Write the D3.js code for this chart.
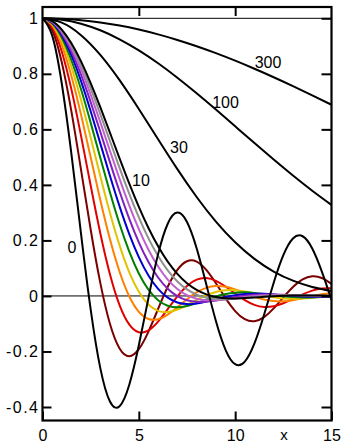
<!DOCTYPE html>
<html>
<head>
<meta charset="utf-8">
<script src="https://cdn.jsdelivr.net/npm/d3@7"></script>
<style>
  body { margin: 0; background: #fff; }
  svg { display: block; }
  text { font-family: "Liberation Sans", Arial, Helvetica, sans-serif; fill: #000; }
</style>
</head>
<body>
<svg id="chart" width="346" height="448"></svg>
<script>
// Sample positions along x
const xFine = [0, 0.5, 1, 1.5, 2, 2.5, 3, 3.5, 4, 4.5, 5, 5.5, 6, 6.5, 7, 7.5, 8, 8.5, 9, 9.5,
               10, 10.5, 11, 11.5, 12, 12.5, 13, 13.5, 14, 14.5, 15];
const xCoarse = [0, 1, 2, 3, 4, 5, 6, 7, 8, 9, 10, 11, 12, 13, 14, 15];

// Curve family, labelled 0 ... 10, 30, 100, 300
const curve0  = [1, 0.9385, 0.7652, 0.5118, 0.2239, -0.0484, -0.2601, -0.3801, -0.3971, -0.3205, -0.1776,
                 -0.0068, 0.1506, 0.2601, 0.3001, 0.2663, 0.1717, 0.0419, -0.0903, -0.1939, -0.2459,
                 -0.2366, -0.1712, -0.0677, 0.0477, 0.1469, 0.2069, 0.2150, 0.1711, 0.0875, -0.0142];
const curve1  = [1, 0.9589, 0.8415, 0.6650, 0.4546, 0.2394, 0.0470, -0.1002, -0.1892, -0.2172, -0.1918,
                 -0.1283, -0.0466, 0.0331, 0.0939, 0.1251, 0.1237, 0.0939, 0.0458, -0.0079, -0.0544,
                 -0.0838, -0.0909, -0.0761, -0.0447, -0.0053, 0.0323, 0.0595, 0.0708, 0.0645, 0.0434];
const curve2  = [1, 0.9692, 0.8801, 0.7439, 0.5767, 0.3977, 0.2261, 0.0785, -0.0330, -0.1027, -0.1310,
                 -0.1241, -0.0922, -0.0473, -0.0013, 0.0361, 0.0587, 0.0643, 0.0545, 0.0340, 0.0087,
                 -0.0150, -0.0321, -0.0397, -0.0372, -0.0265, -0.0108, 0.0056, 0.0191, 0.0267, 0.0273];
const curve3  = [1, 0.9752, 0.9035, 0.7923, 0.6531, 0.4994, 0.3457, 0.2048, 0.0871, -0.0010, -0.0571,
                 -0.0830, -0.0839, -0.0670, -0.0404, -0.0118, 0.0126, 0.0289, 0.0354, 0.0329, 0.0235,
                 0.0107, -0.0024, -0.0127, -0.0185, -0.0193, -0.0155, -0.0088, -0.0010, 0.0060, 0.0107];
const curve4  = [1, 0.9793, 0.9192, 0.8252, 0.7057, 0.5710, 0.4322, 0.2995, 0.1821, 0.0860, 0.0149,
                 -0.0310, -0.0540, -0.0582, -0.0492, -0.0327, -0.0141, 0.0025, 0.0143, 0.0202, 0.0204,
                 0.0161, 0.0092, 0.0017, -0.0047, -0.0089, -0.0103, -0.0092, -0.0062, -0.0023, 0.0015];
const curve5  = [1, 0.9823, 0.9305, 0.8490, 0.7442, 0.6242, 0.4977, 0.3735, 0.2590, 0.1602, 0.0808,
                 0.0225, -0.0155, -0.0355, -0.0411, -0.0365, -0.0260, -0.0135, -0.0019, 0.0068, 0.0117,
                 0.0129, 0.0110, 0.0072, 0.0027, -0.0013, -0.0042, -0.0056, -0.0055, -0.0042, -0.0022];
const curve6  = [1, 0.9845, 0.9390, 0.8670, 0.7737, 0.6654, 0.5495, 0.4330, 0.3228, 0.2237, 0.1401,
                 0.0739, 0.0255, -0.0062, -0.0234, -0.0294, -0.0273, -0.0205, -0.0119, -0.0037, 0.0028,
                 0.0068, 0.0082, 0.0075, 0.0054, 0.0027, 0.0001, -0.0020, -0.0031, -0.0033, -0.0028];
const curve7  = [1, 0.9862, 0.9457, 0.8812, 0.7970, 0.6983, 0.5913, 0.4820, 0.3761, 0.2785, 0.1931,
                 0.1221, 0.0665, 0.0261, -0.0005, -0.0154, -0.0211, -0.0205, -0.0161, -0.0101, -0.0041,
                 0.0007, 0.0039, 0.0053, 0.0052, 0.0040, 0.0023, 0.0006, -0.0008, -0.0017, -0.0020];
const curve8  = [1, 0.9876, 0.9510, 0.8926, 0.8159, 0.7253, 0.6259, 0.5231, 0.4217, 0.3263, 0.2404,
                 0.1665, 0.1060, 0.0591, 0.0253, 0.0028, -0.0099, -0.0153, -0.0155, -0.0127, -0.0084,
                 -0.0040, -0.0004, 0.0021, 0.0034, 0.0036, 0.0030, 0.0019, 0.0008, -0.0002, -0.0009];
const curve9  = [1, 0.9887, 0.9554, 0.9020, 0.8316, 0.7478, 0.6551, 0.5580, 0.4610, 0.3682, 0.2828,
                 0.2074, 0.1435, 0.0919, 0.0522, 0.0236, 0.0048, -0.0061, -0.0110, -0.0118, -0.0100,
                 -0.0070, -0.0037, -0.0009, 0.0011, 0.0021, 0.0024, 0.0021, 0.0015, 0.0007, 0.0001];
const curve10 = [1, 0.9896, 0.9591, 0.9099, 0.8448, 0.7668, 0.6800, 0.5881, 0.4953, 0.4052, 0.3209,
                 0.2449, 0.1789, 0.1236, 0.0795, 0.0458, 0.0218, 0.0058, -0.0036, -0.0080, -0.0090,
                 -0.0078, -0.0057, -0.0033, -0.0011, 0.0005, 0.0014, 0.0017, 0.0016, 0.0012, 0.0007];
const curve30  = [1, 0.9845, 0.9393, 0.8683, 0.7773, 0.6735, 0.5643, 0.4566, 0.3564, 0.2677, 0.1932,
                  0.1335, 0.0879, 0.0550, 0.0323, 0.0177];
const curve100 = [1, 0.9951, 0.9806, 0.9568, 0.9245, 0.8845, 0.8380, 0.7860, 0.7300, 0.6713, 0.6111,
                  0.5507, 0.4913, 0.4338, 0.3791, 0.3279];
const curve300 = [1, 0.9983, 0.9934, 0.9852, 0.9739, 0.9594, 0.9421, 0.9221, 0.8995, 0.8745, 0.8473,
                  0.8183, 0.7878, 0.7557, 0.7226, 0.6887];

const curveColors = ["#7a0000", "#e00000", "#ff8000", "#e0c400", "#008000",
                     "#0000d0", "#8020c0", "#c060d0", "#909090"];

// Axis ticks
const xTicks = [0, 5, 10, 15];
const yTicks = [-0.4, -0.2, 0, 0.2, 0.4, 0.6, 0.8, 1];
const yTickLabels = ["-0.4", "-0.2", "0", "0.2", "0.4", "0.6", "0.8", "1"];
const curveLabels = ["0", "10", "30", "100", "300"];

// Plot frame (pixels)
const frameL = 42.5, frameR = 331.5, frameT = 7, frameB = 420.5;

const svg = d3.select("#chart");
svg.append("rect").attr("width", 346).attr("height", 448).attr("fill", "#fff");

const x = d3.scaleLinear().domain([0, 15]).range([frameL, frameR]);
const y = d3.scaleLinear().domain([-0.4, 1]).range([407, 18.3]);

// Reference lines at 0 and 1
[0, 1].forEach(v => {
  svg.append("line")
    .attr("x1", x(0)).attr("x2", x(15))
    .attr("y1", y(v)).attr("y2", y(v))
    .attr("stroke", "#000").attr("stroke-width", 1);
});

const lineFor = xs => d3.line()
  .x((d, i) => x(xs[i]))
  .y(d => y(d))
  .curve(d3.curveNatural);

const coloured = [curve1, curve2, curve3, curve4, curve5, curve6, curve7, curve8, curve9];
const gCurves = svg.append("g").attr("fill", "none").attr("stroke-linejoin", "round");

coloured.forEach((vals, i) => {
  gCurves.append("path")
    .attr("d", lineFor(xFine)(vals))
    .attr("stroke", curveColors[i])
    .attr("stroke-width", 2);
});

[[curve300, xCoarse], [curve100, xCoarse], [curve30, xCoarse], [curve10, xFine], [curve0, xFine]]
  .forEach(([vals, xs]) => {
    gCurves.append("path")
      .attr("d", lineFor(xs)(vals))
      .attr("stroke", "#000")
      .attr("stroke-width", 2);
  });

// Frame
svg.append("rect")
  .attr("x", frameL).attr("y", frameT)
  .attr("width", frameR - frameL).attr("height", frameB - frameT)
  .attr("fill", "none").attr("stroke", "#000").attr("stroke-width", 2.2);

// Axes with inward ticks
const fontSize = "16px";
const gx = svg.append("g").attr("transform", `translate(0,${frameB})`)
  .call(d3.axisBottom(x).tickValues(xTicks).tickSize(-9).tickPadding(9).tickFormat(d3.format("d")));
const gxTop = svg.append("g").attr("transform", `translate(0,${frameT})`)
  .call(d3.axisTop(x).tickValues([5, 10]).tickSize(-9).tickFormat(""));
const gy = svg.append("g").attr("transform", `translate(${frameL},0)`)
  .call(d3.axisLeft(y).tickValues(yTicks).tickSize(-9).tickPadding(3)
        .tickFormat((d, i) => yTickLabels[i]));
const gyRight = svg.append("g").attr("transform", `translate(${frameR},0)`)
  .call(d3.axisRight(y).tickValues(yTicks).tickSize(-10).tickFormat(""));

[gx, gxTop, gy, gyRight].forEach(g => {
  g.select(".domain").remove();
  g.selectAll(".tick line").attr("stroke", "#000").attr("stroke-width", 2);
  g.selectAll("text").attr("font-size", fontSize).attr("fill", "#000")
    .style("font-family", "\"Liberation Sans\", Arial, sans-serif");
});
gy.selectAll("text").style("letter-spacing", "1.5px");

// Axis title
svg.append("text").attr("x", 284).attr("y", 439.5)
  .attr("text-anchor", "middle").attr("font-size", "15px").text("x");

// Curve labels
const labelPos = [[72, 252.5], [141, 185.5], [179, 153], [225.5, 107.5], [268, 68]];
curveLabels.forEach((t, i) => {
  svg.append("text")
    .attr("x", labelPos[i][0]).attr("y", labelPos[i][1])
    .attr("text-anchor", "middle").attr("font-size", fontSize)
    .text(t);
});
</script>
</body>
</html>
